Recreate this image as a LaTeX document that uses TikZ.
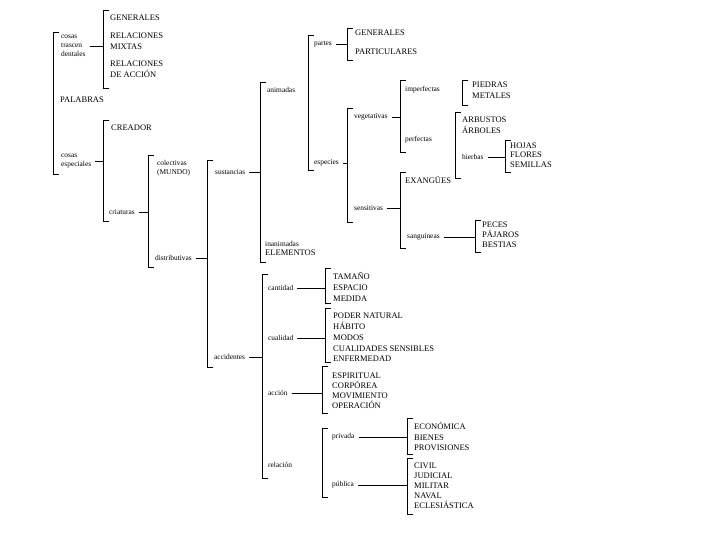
\documentclass[tikz,border=0pt]{standalone}
\usepackage{fontspec}
\setmainfont{Liberation Serif}
\usetikzlibrary{positioning,calc}

\begin{document}
\begin{tikzpicture}[
    x=1pt, y=-1pt,
    lbl/.style={anchor=west, inner sep=0pt, align=left, font=\fontsize{7.4}{9}\selectfont},
    leaf/.style={anchor=west, inner sep=0pt, align=left, font=\fontsize{8.5}{10.5}\selectfont},
    brk/.style={line width=0.6pt, color=black},
    link/.style={line width=0.6pt, color=black},
]
\useasboundingbox (0,0) rectangle (720,540);

% first column
\node[lbl] (ctr) at (61,46) {cosas\\trascen\\dentales};
\node[leaf] (pal) at (60,100) {PALABRAS};
\node[lbl] (cesp) at (61,161) {cosas\\especiales};

\node[leaf] (gen1) at (110,18) {GENERALES};
\node[leaf] (relm) at (110,41) {RELACIONES\\MIXTAS};
\node[leaf] (rela) at (110,69) {RELACIONES\\DE ACCIÓN};
\node[leaf] (crea) at (111,128) {CREADOR};
\node[lbl] (cria) at (109,212) {criaturas};

\node[lbl] (col) at (157,168) {colectivas\\(MUNDO)};
\node[lbl] (dist) at (155,258) {distributivas};

% sustancias
\node[lbl] (sust) at (215,172) {sustancias};
\node[lbl] (anim) at (267,90) {animadas};
\node[lbl] (inan) at (265,248) {inanimadas\\\fontsize{8.5}{10}\selectfont ELEMENTOS};

\node[lbl] (part) at (314,44) {partes};
\node[leaf] (gen2) at (355,33) {GENERALES};
\node[leaf] (partic) at (355,52) {PARTICULARES};

\node[lbl] (espe) at (314,163) {especies};
\node[lbl] (veg) at (354,117) {vegetativas};
\node[lbl] (imp) at (405,90) {imperfectas};
\node[leaf] (piedras) at (472,90) {PIEDRAS\\METALES};
\node[lbl] (perf) at (405,140) {perfectas};
\node[leaf] (arb) at (462,125) {ARBUSTOS\\ÁRBOLES};
\node[lbl] (hier) at (462,157) {hierbas};
\node[leaf, font=\fontsize{8.5}{9.5}\selectfont] (hojas) at (510,155) {HOJAS\\FLORES\\SEMILLAS};

\node[leaf] (exan) at (405,180) {EXANGÜES};
\node[lbl] (sens) at (354,208) {sensitivas};
\node[lbl] (sang) at (407,237) {sanguíneas};
\node[leaf, font=\fontsize{8.5}{10}\selectfont] (peces) at (482,235) {PECES\\PÁJAROS\\BESTIAS};

% accidentes
\node[lbl] (acc) at (214,357) {accidentes};
\node[lbl] (cant) at (268,288) {cantidad};
\node[leaf, font=\fontsize{8.5}{11}\selectfont] (tam) at (333,287) {TAMAÑO\\ESPACIO\\MEDIDA};
\node[lbl] (cual) at (268,338) {cualidad};
\node[leaf, font=\fontsize{8.5}{10.75}\selectfont] (poder) at (333,337.5) {PODER NATURAL\\HÁBITO\\MODOS\\CUALIDADES SENSIBLES\\ENFERMEDAD};
\node[lbl] (acci) at (268,393) {acción};
\node[leaf, font=\fontsize{8.5}{10}\selectfont] (espir) at (332,391) {ESPIRITUAL\\CORPÓREA\\MOVIMIENTO\\OPERACIÓN};
\node[lbl] (rel) at (268,465) {relación};
\node[lbl] (priv) at (332,437) {privada};
\node[leaf, font=\fontsize{8.5}{10.5}\selectfont] (econ) at (414,436.5) {ECONÓMICA\\BIENES\\PROVISIONES};
\node[lbl] (publ) at (332,485) {pública};
\node[leaf, font=\fontsize{8.5}{10}\selectfont] (civil) at (414,486) {CIVIL\\JUDICIAL\\MILITAR\\NAVAL\\ECLESIÁSTICA};

% brackets
\foreach \nm/\xx/\ya/\yb in {root/53/32/174, ctr/103/10/88, cesp/103/120/221,
    cria/148/155/267, dist/207/160/367, sust/260/82/262, anim/308/35/170,
    part/347/28/60, espe/347/108/222, veg/400/80/152, imp/462/80/105,
    perf/455/112/178, hier/505/140/172, sens/400/172/248, sang/475/220/252,
    acc/262/274/478, cant/325/268/303, cual/325/308/362, acci/322/366/413,
    rel/322/428/497, priv/407/418/454, publ/407/458/514}{
  \draw[brk] (\xx+6,\ya) -- (\xx,\ya) -- (\xx,\yb) -- (\xx+6,\yb);
  \coordinate (b-\nm) at (\xx,\ya);
}

% links
\foreach \nm in {ctr,cesp,cria,dist,sust,part,espe,veg,hier,sens,sang,acc,cant,cual,acci,priv,publ}
  \draw[link] ([xshift=4pt]\nm.east) -- (\nm.east -| b-\nm);
\end{tikzpicture}
\end{document}
